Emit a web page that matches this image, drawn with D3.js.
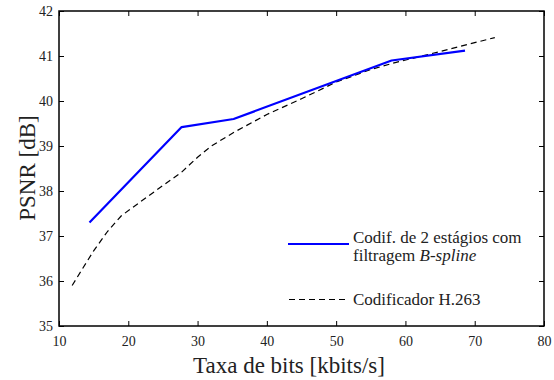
<!DOCTYPE html>
<html><head><meta charset="utf-8">
<script src="https://cdn.jsdelivr.net/npm/d3@7"></script>
<style>body{margin:0;background:#fff;} text{font-family:"Liberation Serif","Times New Roman",serif;fill:#222;}</style>
</head><body>
<svg id="c" width="554" height="380"></svg>
<script>
const xTicks = [10,20,30,40,50,60,70,80];
const yTicks = [35,36,37,38,39,40,41,42];
const bsplineX = [14.4, 27.7, 35.2, 58.0, 68.6];
const bsplineY = [37.3, 39.42, 39.6, 40.9, 41.12];
const h263X = [11.9, 13.5, 15.0, 17.0, 19.0, 23.0, 27.7, 30.0, 32.0, 35.2, 40.0, 45.0, 50.0, 55.0, 58.2, 65.0, 72.9];
const h263Y = [35.9, 36.3, 36.67, 37.1, 37.45, 37.9, 38.42, 38.75, 39.0, 39.3, 39.7, 40.05, 40.42, 40.7, 40.84, 41.1, 41.41];
const legendLabels = ["Codif. de 2 estágios com", "filtragem ", "B-spline", "Codificador H.263"];
const xLabel = "Taxa de bits [kbits/s]";
const yLabel = "PSNR [dB]";

const L=59, R=544, T=11, B=326;
const svg = d3.select("#c");
const x = d3.scaleLinear().domain([10,80]).range([L,R]);
const y = d3.scaleLinear().domain([35,42]).range([B,T]);
const fmt = d3.format("d");

const g = svg.append("g");
g.append("rect").attr("x",L).attr("y",T).attr("width",R-L).attr("height",B-T)
 .attr("fill","none").attr("stroke","#000").attr("stroke-width",1.5);

const ax = g.append("g").attr("transform",`translate(0,${B})`)
 .call(d3.axisBottom(x).tickValues(xTicks).tickFormat(fmt).tickSizeInner(-5).tickSizeOuter(0).tickPadding(10));
const axT = g.append("g").attr("transform",`translate(0,${T})`)
 .call(d3.axisTop(x).tickValues(xTicks).tickSizeInner(-5).tickSizeOuter(0).tickFormat(""));
const ay = g.append("g").attr("transform",`translate(${L},0)`)
 .call(d3.axisLeft(y).tickValues(yTicks).tickFormat(fmt).tickSizeInner(-5).tickSizeOuter(0).tickPadding(6));
const ayR = g.append("g").attr("transform",`translate(${R},0)`)
 .call(d3.axisRight(y).tickValues(yTicks).tickSizeInner(-5).tickSizeOuter(0).tickFormat(""));
[ax,axT,ay,ayR].forEach(a=>{
  a.attr("font-family","Liberation Serif, serif").attr("font-size",14);
  a.select(".domain").remove(); a.selectAll("line").attr("stroke","#000");
  a.selectAll("text").attr("fill","#222");});
ay.selectAll("text").attr("dy","0.35em");
ax.selectAll("text").attr("dy","0.71em");

const line = d3.line().x(d=>x(d[0])).y(d=>y(d[1]));
const h263 = h263X.map((v,i)=>[v,h263Y[i]]);
const bs = bsplineX.map((v,i)=>[v,bsplineY[i]]);
g.append("path").datum(h263).attr("d",line).attr("fill","none").attr("stroke","#000")
 .attr("stroke-width",1.2).attr("stroke-dasharray","6,4");
g.append("path").datum(bs).attr("d",line).attr("fill","none").attr("stroke","#0000ff")
 .attr("stroke-width",2.2).attr("stroke-linejoin","round");

g.append("line").attr("x1",288).attr("x2",349).attr("y1",244).attr("y2",244).attr("stroke","#0000ff").attr("stroke-width",2.2);
g.append("text").attr("x",353).attr("y",243).style("font-size","17px").text(legendLabels[0]);
const t2 = g.append("text").attr("x",353).attr("y",261).style("font-size","17px");
t2.append("tspan").text(legendLabels[1]);
t2.append("tspan").style("font-style","italic").text(legendLabels[2]);
g.append("line").attr("x1",289).attr("x2",347).attr("y1",299.5).attr("y2",299.5).attr("stroke","#000").attr("stroke-width",1.2).attr("stroke-dasharray","6,4");
g.append("text").attr("x",353).attr("y",305).style("font-size","17px").text(legendLabels[3]);

g.append("text").attr("x",289).attr("y",373).attr("text-anchor","middle").style("font-size","23px").text(xLabel);
g.append("text").attr("transform","translate(35,168) rotate(-90)").attr("text-anchor","middle").style("font-size","23px").text(yLabel);
</script>
</body></html>
